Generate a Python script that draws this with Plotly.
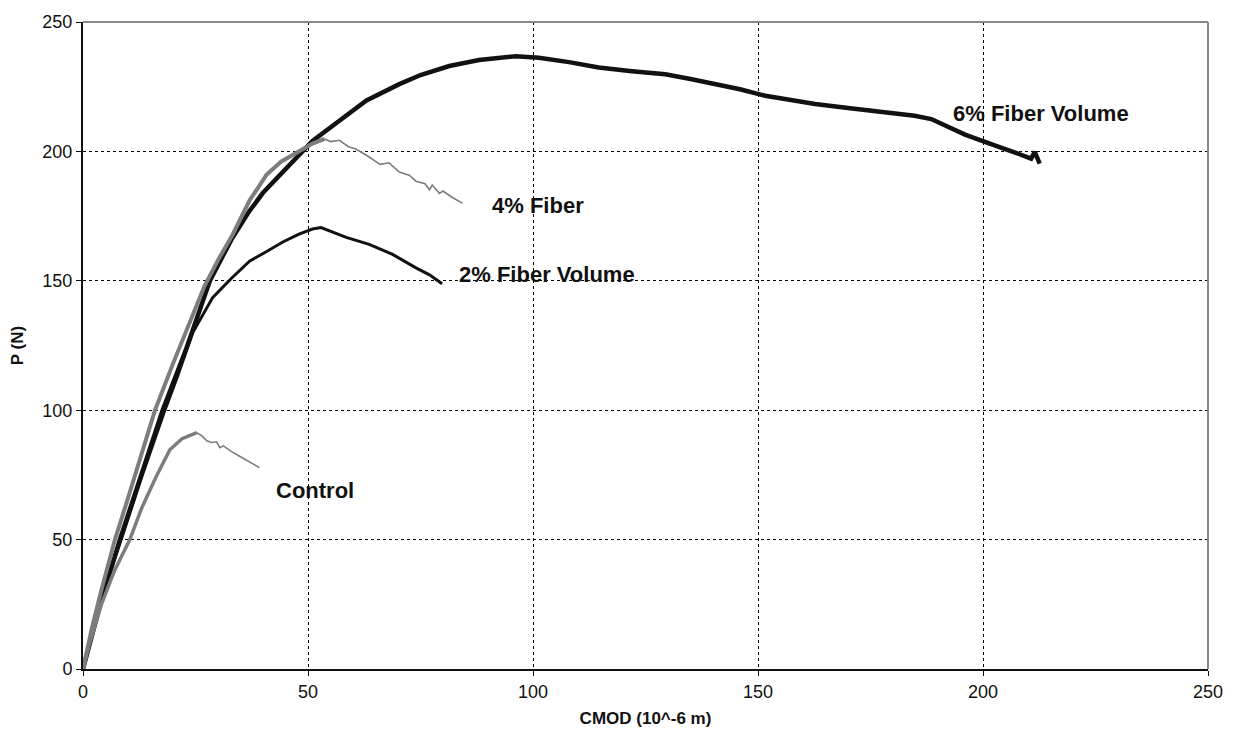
import plotly.graph_objects as go

# ---- data (CMOD in 10^-6 m, P in N) ----
control_rise_x = [0, 1.5, 4.1, 7, 10.4, 13, 16.3, 19.3, 22, 25.3]
control_rise_p = [0, 10, 25, 38, 50, 62, 74.5, 84.7, 89, 91.3]
control_fall_x = [25.3, 26.5, 27.5, 28.6, 29.7, 30.4, 31.2, 33, 35, 37, 39.2]
control_fall_p = [91.3, 90, 88.2, 87.5, 87.8, 85.5, 86.2, 84, 82, 80, 77.8]

fiber4_rise_x = [0, 2, 4, 7.1, 10, 13, 16, 20, 23, 27, 30, 33.3, 37, 40.8, 44, 48.1, 51, 53.7]
fiber4_rise_p = [0, 16, 30, 50, 66, 83, 100, 118, 131, 148, 158, 168, 181, 191, 196, 200, 203, 204.8]
fiber4_fall_x = [53.7, 55, 57, 59, 60.5, 63, 66, 68, 70.3, 72.5, 74, 76, 77, 77.6, 79.2, 80, 82, 84.3]
fiber4_fall_p = [204.8, 203.8, 204.3, 201.8, 201, 198.5, 195, 195.6, 192, 190.8, 188.5, 187.5, 185.2, 187, 183.8, 184.7, 182.3, 180]

fiber2_x = [0, 2, 4, 8.5, 13, 18, 21, 24.4, 28.8, 33, 37, 41, 44.4, 48, 51, 52.9,
            58.5, 63.6, 68.8, 74, 77, 79.8]
fiber2_p = [0, 14, 27, 50, 74, 99, 113, 130, 143.5, 151, 157.6, 161.5, 165, 168, 170, 170.6,
            166.8, 164.1, 160.2, 155, 152.3, 148.9]

fiber6_x = [0, 2, 4, 8.2, 13, 17.7, 23, 28.2, 33, 37, 40, 44.4, 48, 51, 56.3, 63, 70.3,
            75, 81.4, 88, 96.2, 101.3, 108, 114.6, 122, 129.4, 135, 140.5, 146, 151.6,
            157, 162.7, 170, 177, 184.8, 188.5, 192, 196, 201.5, 205, 208, 210.7, 211.5, 212.6]
fiber6_p = [0, 13, 26, 50, 75, 100, 124, 150, 166, 177, 184, 192, 199, 204, 211, 219.7, 226,
            229.5, 233, 235.3, 236.8, 236.2, 234.5, 232.4, 231, 229.8, 228, 226, 224, 221.5,
            219.8, 218.3, 216.8, 215.5, 213.8, 212.5, 209.5, 206.5, 203, 201, 199, 197.2, 199.8, 195.3]

labels_text = ["6% Fiber Volume", "4% Fiber", "2% Fiber Volume", "Control"]
labels_x = [212.9, 101.2, 103.1, 51.6]
labels_p = [214.7, 179.1, 152.3, 68.8]

ticks = [0, 50, 100, 150, 200, 250]

GRAY = "#7d7d7d"
BLACK = "#111111"
FONT = "Liberation Sans, Arial, sans-serif"

fig = go.Figure()
fig.add_trace(go.Scatter(x=fiber6_x, y=fiber6_p, mode="lines",
                         line=dict(color=BLACK, width=4.5), name="6% Fiber Volume"))
fig.add_trace(go.Scatter(x=fiber2_x, y=fiber2_p, mode="lines",
                         line=dict(color=BLACK, width=3), name="2% Fiber Volume"))
fig.add_trace(go.Scatter(x=fiber4_rise_x, y=fiber4_rise_p, mode="lines",
                         line=dict(color=GRAY, width=4), name="4% Fiber"))
fig.add_trace(go.Scatter(x=fiber4_fall_x, y=fiber4_fall_p, mode="lines",
                         line=dict(color=GRAY, width=1.6), name="4% Fiber (post-peak)"))
fig.add_trace(go.Scatter(x=control_rise_x, y=control_rise_p, mode="lines",
                         line=dict(color=GRAY, width=3.5), name="Control"))
fig.add_trace(go.Scatter(x=control_fall_x, y=control_fall_p, mode="lines",
                         line=dict(color=GRAY, width=1.6), name="Control (post-peak)"))

for t, x, y in zip(labels_text, labels_x, labels_p):
    fig.add_annotation(x=x, y=y, text="<b>" + t + "</b>", showarrow=False,
                       font=dict(family=FONT, size=22, color="#111"),
                       xanchor="center", yanchor="middle")

# gray top/right frame
fig.add_shape(type="line", xref="paper", yref="paper", x0=0, x1=1, y0=1, y1=1,
              line=dict(color="#888", width=2))
fig.add_shape(type="line", xref="paper", yref="paper", x0=1, x1=1, y0=0, y1=1,
              line=dict(color="#888", width=2))

fig.update_layout(
    width=1235, height=737,
    margin=dict(l=83, r=25, t=19, b=66),
    paper_bgcolor="white", plot_bgcolor="white",
    showlegend=False,
    font=dict(family=FONT, color="#111"),
    xaxis=dict(range=[0, 250], tickvals=ticks, ticktext=[str(t) for t in ticks],
               showgrid=True, gridcolor="#000", griddash="dot", gridwidth=1,
               showline=True, linecolor="#111", linewidth=2,
               ticks="outside", ticklen=5, tickcolor="#111",
               tickfont=dict(size=18, family=FONT),
               zeroline=False,
               title=dict(text="<b>CMOD (10^-6 m)</b>", font=dict(size=17, family=FONT), standoff=12)),
    yaxis=dict(range=[0, 250], tickvals=ticks, ticktext=[str(t) for t in ticks],
               showgrid=True, gridcolor="#000", griddash="dot", gridwidth=1,
               showline=True, linecolor="#111", linewidth=2,
               ticks="outside", ticklen=5, tickcolor="#111",
               tickfont=dict(size=18, family=FONT),
               zeroline=False,
               title=dict(text="<b>P (N)</b>", font=dict(size=17, family=FONT), standoff=14)),
)

fig.write_html("out.html")
